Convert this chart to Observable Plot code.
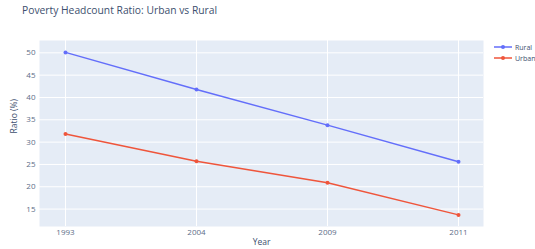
<!DOCTYPE html>
<html>
<head>
<meta charset="utf-8">
<script src="https://cdn.jsdelivr.net/npm/d3@7"></script>
<script src="https://cdn.jsdelivr.net/npm/@observablehq/plot@0.6"></script>
<style>
  html, body { margin: 0; padding: 0; background: #fff; overflow: hidden; }
  #wrap { position: relative; width: 535px; height: 249px; font-family: "Open Sans", sans-serif; }
  #title { position: absolute; left: 22px; top: 3px; font-size: 10.3px; color: #3d4f6e; white-space: nowrap; }
  #legend { position: absolute; left: 494px; top: 42px; font-size: 7px; color: #3d4f6e; white-space: nowrap; }
  .li { display: flex; align-items: center; height: 10.7px; }
  .li svg { margin-right: 3px; flex: none; }
</style>
</head>
<body>
<div id="wrap">
  <div id="title">Poverty Headcount Ratio: Urban vs Rural</div>
  <div id="legend"></div>
</div>
<script>
const years = ["1993", "2004", "2009", "2011"];
const rural = [50.1, 41.8, 33.8, 25.6];
const urban = [31.8, 25.7, 20.9, 13.7];
const seriesNames = ["Rural", "Urban"];
const seriesColors = ["#636efa", "#EF553B"];
const yTicks = [15, 20, 25, 30, 35, 40, 45, 50];

const data = [];
years.forEach((y, i) => {
  data.push({year: y, value: rural[i], series: "Rural"});
  data.push({year: y, value: urban[i], series: "Urban"});
});

const chart = Plot.plot({
  width: 535,
  height: 249,
  marginLeft: 39,
  marginRight: 52,
  marginTop: 40,
  marginBottom: 23,
  style: {fontFamily: "Open Sans, sans-serif", fontSize: "8px", color: "#2a3f5f", background: "transparent"},
  x: {type: "point", domain: years, padding: 0.182, label: null},
  y: {domain: [11.1, 52.76], label: null},
  color: {domain: seriesNames, range: seriesColors},
  marks: [
    Plot.frame({fill: "#E5ECF6", stroke: null}),
    Plot.gridY(yTicks, {stroke: "white", strokeOpacity: 1, strokeWidth: 1}),
    Plot.gridX(years, {stroke: "white", strokeOpacity: 1, strokeWidth: 1}),
    Plot.axisY(yTicks, {tickSize: 0, tickPadding: 4, fill: "#5d6d88", fontSize: 8}),
    Plot.axisX(years, {tickSize: 0, tickPadding: 3, fill: "#5d6d88", fontSize: 8}),
    Plot.line(data, {x: "year", y: "value", z: "series", stroke: "series", strokeWidth: 1.5}),
    Plot.dot(data, {x: "year", y: "value", fill: "series", r: 2, stroke: null}),
    Plot.text(["Year"], {frameAnchor: "bottom", dy: 18, text: d => d, fontSize: 8.5, fill: "#3d4f6e"}),
    Plot.text(["Ratio (%)"], {frameAnchor: "left", dx: -25, rotate: -90, text: d => d, fontSize: 8.5, fill: "#3d4f6e"})
  ]
});
document.getElementById("wrap").prepend(chart);
chart.style.position = "absolute";
chart.style.left = "0";
chart.style.top = "0";

const legend = document.getElementById("legend");
seriesNames.forEach((n, i) => {
  const row = document.createElement("div");
  row.className = "li";
  row.innerHTML = `<svg width="18" height="6"><line x1="0" y1="3" x2="18" y2="3" stroke="${seriesColors[i]}" stroke-width="1.5"/><circle cx="9" cy="3" r="2" fill="${seriesColors[i]}"/></svg><span>${n}</span>`;
  legend.appendChild(row);
});
</script>
</body>
</html>
